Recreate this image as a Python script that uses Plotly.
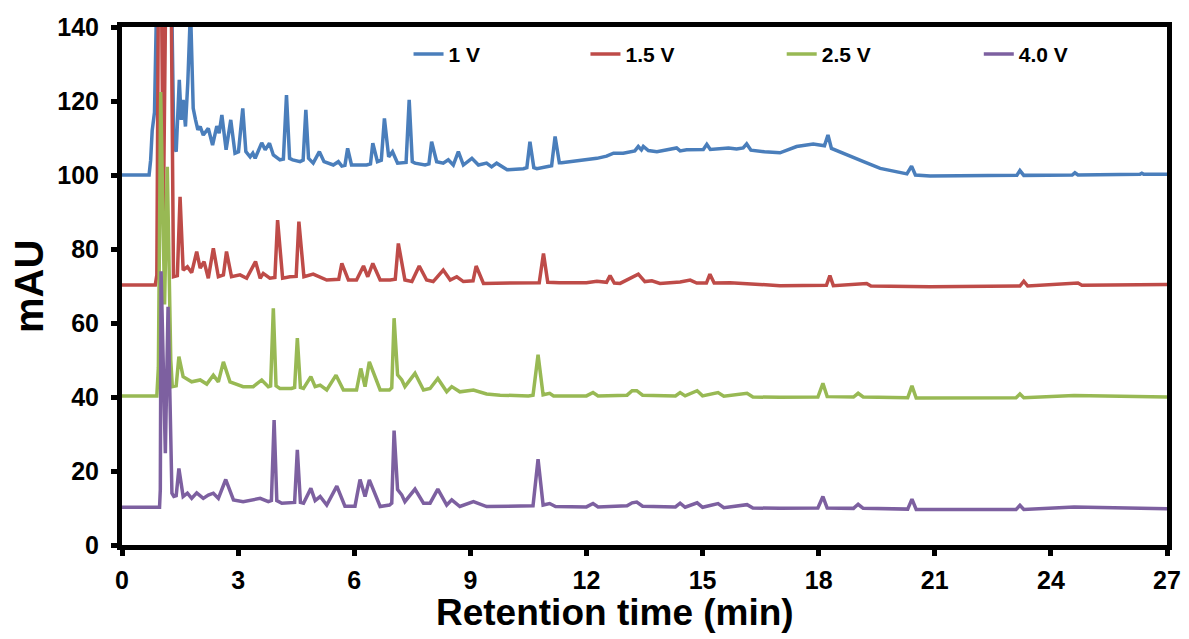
import plotly.graph_objects as go

# ---------------- data ----------------
series_names = ["1 V", "1.5 V", "2.5 V", "4.0 V"]
series_colors = ["#4A7EBB", "#BE4B48", "#98B954", "#7D60A0"]

blue_t = [0, 0.70, 0.74, 0.78, 0.84, 0.90, 1.28, 1.34, 1.40, 1.48, 1.53, 1.58, 1.64, 1.70, 1.77, 1.84,
          1.90, 1.96, 2.02, 2.10, 2.23, 2.34, 2.45, 2.51, 2.58, 2.69, 2.81, 2.92, 3.01, 3.12, 3.20,
          3.31, 3.38, 3.44, 3.61, 3.70, 3.81, 3.91, 4.08, 4.17, 4.25, 4.33, 4.41, 4.60, 4.68, 4.75,
          4.82, 4.94, 5.10, 5.22, 5.46, 5.59, 5.68, 5.76, 5.83, 5.93, 6.32, 6.42, 6.48, 6.60, 6.70,
          6.78, 6.89, 6.99, 7.12, 7.34, 7.42, 7.50, 7.57, 7.83, 7.93, 8.00, 8.13, 8.30, 8.43, 8.56,
          8.69, 8.82, 9.04, 9.21, 9.42, 9.55, 9.68, 9.95, 10.37, 10.46, 10.54, 10.64, 10.72, 10.97,
          11.10, 11.19, 11.30, 11.36, 11.83, 12.27, 12.52, 12.70, 12.95, 13.25, 13.34, 13.42, 13.47,
          13.60, 13.82, 14.33, 14.42, 14.59, 15.02, 15.11, 15.20, 15.67, 15.88, 16.05, 16.14, 16.25,
          16.60, 17.00, 17.43, 17.86, 18.15, 18.24, 18.33, 18.73, 19.16, 19.59, 20.28, 20.40, 20.50,
          20.88, 22.00, 23.12, 23.20, 23.30, 24.55, 24.62, 24.70, 26.30, 26.35, 26.40, 27.00]
blue_v = [100, 100, 104, 112, 117, 150, 150, 108, 106.3, 125.7, 114.9, 120.3, 113.1, 125, 145, 118,
          114.9, 112.2, 113.1, 110.8, 112.6, 108.1, 113.2, 111.3, 116.2, 106.8, 114.9, 105.9, 106.3, 118.0, 106.3,
          104.9, 105.9, 104.5, 108.7, 106.8, 108.6, 105.4, 104.1, 104.3, 121.6, 104.5, 104.1, 103.6, 104.0, 117.6,
          104.5, 103.2, 106.3, 103.6, 102.7, 103.6, 102.4, 102.6, 107.2, 102.7, 102.7, 103.0, 108.6, 103.6, 104.0,
          115.3, 104.9, 106.3, 103.2, 103.4, 120.3, 103.6, 103.2, 102.7, 103.0, 109.0, 103.6, 103.2, 104.1, 102.7,
          106.3, 102.7, 104.5, 102.7, 103.2, 102.2, 103.2, 101.4, 101.7, 102.0, 109.0, 102.0, 101.7, 102.3,
          102.5, 110.4, 103.3, 103.3, 103.9, 104.5, 105.1, 105.9, 105.9, 106.5, 107.7, 106.8, 107.7,
          106.6, 106.3, 107.3, 106.5, 106.8, 106.9, 108.3, 106.9, 107.3, 107.0, 107.3, 108.4, 106.7,
          106.3, 106.0, 107.7, 108.4, 107.9, 110.8, 107.2, 105.4, 103.6, 101.8, 100.3, 102.4, 100.0,
          99.7, 99.8, 99.9, 101.2, 99.9, 100.0, 100.6, 100.0, 100.2, 100.5, 100.2, 100.2]

red_t = [0, 0.86, 0.90, 0.94, 1.02, 1.07, 1.13, 1.27, 1.33, 1.43, 1.50, 1.58, 1.69, 1.80, 1.93, 2.02,
         2.12, 2.23, 2.36, 2.49, 2.62, 2.70, 2.83, 3.05, 3.22, 3.45, 3.57, 3.65, 3.82, 3.95, 4.02,
         4.15, 4.34, 4.50, 4.57, 4.70, 4.94, 5.29, 5.60, 5.68, 5.85, 6.06, 6.24, 6.35, 6.48, 6.67,
         6.93, 7.06, 7.14, 7.31, 7.49, 7.68, 7.87, 8.04, 8.30, 8.48, 8.65, 8.82, 9.07, 9.15, 9.34,
         9.77, 10.30, 10.78, 10.89, 11.00, 11.30, 12.00, 12.27, 12.52, 12.61, 12.72, 12.87, 13.21,
         13.34, 13.51, 13.69, 13.90, 14.42, 14.68, 14.85, 15.10, 15.19, 15.30, 15.71, 17.00, 18.20,
         18.29, 18.38, 19.24, 19.35, 20.88, 23.20, 23.30, 23.40, 24.70, 24.80, 27.00]
red_v = [70.3, 70.3, 73, 150, 150, 90, 150, 150, 72.5, 72.8, 94.1, 74.3, 75.2, 73.6, 79.3, 74.8,
         76.6, 72.1, 80.2, 72.5, 73.0, 79.3, 72.5, 73.0, 72.1, 76.6, 72.1, 73.4, 72.1, 72.3, 87.8,
         72.1, 72.5, 72.6, 87.4, 72.5, 73.2, 71.6, 71.8, 76.1, 71.6, 71.6, 75.4, 72.5, 76.1, 71.6,
         71.6, 71.8, 81.5, 71.6, 71.2, 75.4, 71.6, 71.2, 74.3, 71.6, 72.5, 71.2, 71.4, 75.4, 70.7,
         70.7, 70.7, 70.9, 78.8, 71.0, 70.9, 70.9, 71.3, 71.0, 72.8, 70.8, 70.7, 72.7,
         73.2, 71.2, 71.4, 70.7, 71.1, 71.6, 70.8, 70.8, 73.2, 70.8, 70.9, 70.1, 70.2,
         72.8, 70.1, 70.7, 70.0, 69.8, 70.0, 71.3, 70.0, 70.8, 70.2, 70.4]

green_t = [0, 0.90, 0.94, 1.00, 1.10, 1.17, 1.26, 1.30, 1.40, 1.47, 1.58, 1.67, 1.80, 2.02, 2.19,
           2.36, 2.49, 2.62, 2.79, 3.13, 3.39, 3.61, 3.78, 3.84, 3.91, 3.98, 4.08, 4.38, 4.46, 4.53,
           4.61, 4.69, 4.88, 4.99, 5.12, 5.29, 5.53, 5.72, 6.06, 6.17, 6.28, 6.39, 6.67, 6.91, 6.97,
           7.03, 7.12, 7.23, 7.31, 7.57, 7.79, 7.96, 8.16, 8.39, 8.52, 8.73, 9.08, 9.42, 9.77, 10.50,
           10.62, 10.75, 10.88, 11.05, 11.15, 12.00, 12.17, 12.30, 13.05, 13.18, 13.30, 13.45, 14.30,
           14.42, 14.55, 14.86, 15.00, 15.40, 15.55, 16.15, 16.30, 17.00, 17.98, 18.11, 18.22, 18.90,
           19.02, 19.15, 20.30, 20.41, 20.52, 23.10, 23.20, 23.30, 24.60, 27.00]
green_v = [40.3, 40.3, 48, 122.4, 65, 102.2, 50, 42.8, 43.0, 50.9, 45.5, 45.0, 44.1, 44.6, 43.5,
           45.9, 44.1, 49.5, 44.1, 42.8, 42.8, 44.6, 42.8, 43.0, 64.0, 43.0, 42.3, 42.3, 42.6, 55.9,
           42.6, 42.3, 45.5, 42.8, 43.2, 41.9, 45.9, 41.9, 41.9, 47.7, 42.8, 49.5, 41.9, 41.9, 42.5,
           61.3, 46.0, 44.6, 42.8, 46.4, 41.9, 42.3, 45.0, 41.4, 42.8, 41.4, 41.9, 40.8, 40.5, 40.3,
           40.5, 51.4, 40.6, 41.0, 40.3, 40.3, 41.2, 40.3, 40.5, 41.7, 41.7, 40.5, 40.3,
           41.2, 40.3, 41.7, 40.3, 41.2, 40.2, 41.0, 40.0, 39.9, 40.0, 43.7, 40.1, 40.0,
           41.0, 40.0, 39.8, 43.0, 39.7, 39.8, 40.8, 39.8, 40.4, 40.0]

purple_t = [0, 0.97, 0.99, 1.01, 1.12, 1.19, 1.29, 1.34, 1.40, 1.47, 1.58, 1.69, 1.80, 1.93, 2.10,
            2.23, 2.36, 2.49, 2.68, 2.88, 3.13, 3.39, 3.57, 3.78, 3.86, 3.93, 4.00, 4.13, 4.38, 4.46,
            4.53, 4.61, 4.69, 4.88, 4.99, 5.12, 5.29, 5.55, 5.76, 6.02, 6.15, 6.28, 6.39, 6.67, 6.91,
            6.97, 7.03, 7.12, 7.23, 7.31, 7.57, 7.79, 7.96, 8.16, 8.39, 8.52, 8.73, 9.08, 9.42, 9.77,
            10.50, 10.62, 10.75, 10.88, 11.05, 11.20, 12.00, 12.17, 12.30, 13.05, 13.18, 13.30, 13.45,
            14.30, 14.42, 14.55, 14.86, 15.00, 15.40, 15.55, 16.15, 16.30, 17.00, 17.98, 18.11, 18.22,
            18.90, 19.02, 19.15, 20.30, 20.41, 20.52, 23.10, 23.20, 23.30, 24.60, 27.00]
purple_v = [10.2, 10.2, 15, 74, 24.8, 64.4, 14, 13.1, 13.3, 20.7, 13.1, 14.0, 12.6, 14.1, 12.6,
            13.5, 14.0, 12.6, 17.7, 12.2, 11.7, 12.2, 12.6, 11.7, 12.0, 33.8, 12.0, 11.3, 11.3, 11.5,
            25.7, 11.5, 11.3, 15.3, 12.0, 13.1, 10.8, 15.9, 10.5, 10.5, 17.7, 13.1, 17.6, 10.4, 10.8,
            11.3, 30.9, 15.0, 13.5, 11.7, 15.1, 11.3, 11.3, 15.1, 10.8, 12.2, 10.4, 11.7, 10.4, 10.4,
            10.4, 10.6, 23.2, 10.8, 11.2, 10.4, 10.3, 11.2, 10.3, 10.6, 11.4, 11.6, 10.5,
            10.3, 11.3, 10.2, 11.4, 10.2, 11.2, 10.1, 10.9, 10.0, 9.9, 10.0, 13.1, 10.0,
            9.9, 11.0, 9.9, 9.7, 12.4, 9.6, 9.6, 10.7, 9.6, 10.3, 9.8]

x_ticks = [0, 3, 6, 9, 12, 15, 18, 21, 24, 27]
y_ticks = [0, 20, 40, 60, 80, 100, 120, 140]

# legend left positions (paper fraction)
legend_x = [0.2742, 0.4435, 0.6313, 0.8199]

# ---------------- figure ----------------
FONT = "Arial, Liberation Sans, sans-serif"
data_t = [blue_t, red_t, green_t, purple_t]
data_v = [blue_v, red_v, green_v, purple_v]

fig = go.Figure()
for i in range(4):
    lg = "legend" if i == 0 else f"legend{i+1}"
    fig.add_trace(go.Scatter(
        x=data_t[i], y=data_v[i], mode="lines", name="<b>" + series_names[i] + "</b>",
        line=dict(color=series_colors[i], width=3.5),
        legend=lg, showlegend=True,
    ))

legend_common = dict(
    orientation="h", y=0.947, yanchor="middle", xanchor="left",
    bgcolor="rgba(0,0,0,0)", borderwidth=0,
    font=dict(family=FONT, size=21, color="#000000"),
)
layout_legends = {}
for i in range(4):
    key = "legend" if i == 0 else f"legend{i+1}"
    layout_legends[key] = dict(legend_common, x=legend_x[i])

fig.update_layout(
    width=1189, height=639,
    margin=dict(l=122, r=22, t=27, b=94, autoexpand=False),
    paper_bgcolor="white", plot_bgcolor="white",
    font=dict(family=FONT, color="#000000"),
    xaxis=dict(
        range=[0, 27], tickvals=x_ticks, ticktext=["<b>%d</b>" % v for v in x_ticks],
        showgrid=False, zeroline=False, automargin=False,
        showline=True, linecolor="black", linewidth=5, mirror=True,
        ticks="outside", ticklen=6, tickwidth=5, tickcolor="black",
        ticklabelstandoff=3,
        tickfont=dict(family=FONT, size=25, color="#000000"),
    ),
    yaxis=dict(
        range=[0, 140], tickvals=y_ticks, ticktext=["<b>%d</b>" % v for v in y_ticks],
        showgrid=False, zeroline=False, automargin=False,
        showline=True, linecolor="black", linewidth=5, mirror=True,
        ticks="outside", ticklen=6, tickwidth=5, tickcolor="black",
        ticklabelstandoff=7,
        tickfont=dict(family=FONT, size=25, color="#000000"),
    ),
    annotations=[
        dict(text="<b>Retention time (min)</b>", xref="paper", yref="paper",
             x=0.472, y=-0.131, xanchor="center", yanchor="middle", showarrow=False,
             font=dict(family=FONT, size=37, color="#000000")),
        dict(text="<b>mAU</b>", xref="paper", yref="paper",
             x=-0.089, y=0.5, xanchor="center", yanchor="middle", showarrow=False,
             textangle=-90,
             font=dict(family=FONT, size=40, color="#000000")),
    ],
    **layout_legends,
)

fig.write_html(
    "out.html",
    config={"displayModeBar": False},
    post_script="document.body.style.margin='0';document.body.style.padding='0';",
)
